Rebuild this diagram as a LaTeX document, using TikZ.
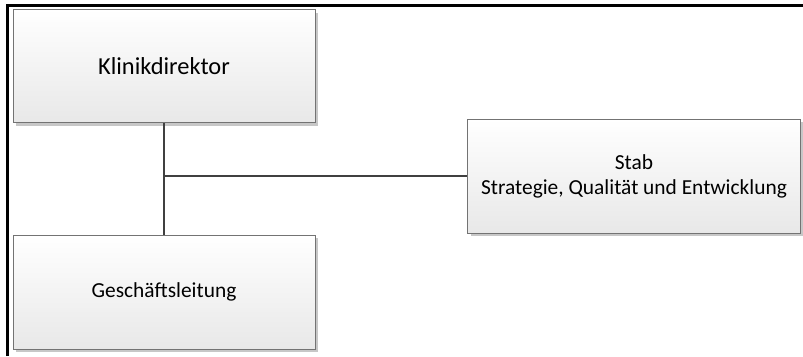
\documentclass[tikz,border=0pt]{standalone}
\usepackage{fontspec}
\setmainfont{Carlito}
\usetikzlibrary{shadows}

\begin{document}
\begin{tikzpicture}[x=1pt, y=-1pt, font=\fontsize{21.4}{25}\selectfont,
box/.style={draw=black!55, line width=0.8pt, top color=white, bottom color=black!9,
 align=center, inner sep=0pt,
 drop shadow={shadow xshift=3pt, shadow yshift=-3pt, fill=black!22, opacity=1}},
link/.style={draw=black!75, line width=2.2pt}]
\useasboundingbox (0,0) rectangle (803,356);
% frame
\draw [line width=3pt] (7,356) -- (7,5) -- (803,5);
% boxes
\node [box, minimum width=302pt, minimum height=113pt, font=\fontsize{24.4}{29}\selectfont]
 (kd) at (164,66) {Klinikdirektor};
\node [box, minimum width=302pt, minimum height=114pt] (gl) at (164,292) {Gesch\"aftsleitung};
\node [box, minimum width=333pt, minimum height=114pt] (stab) at (634,176)
 {Stab\\Strategie, Qualit\"at und Entwicklung};
% lines
\coordinate (join) at (kd.south |- stab.west);
\draw [link] (kd.south) -- (gl.north);
\draw [link] (join) -- (stab.west);
\end{tikzpicture}
\end{document}
